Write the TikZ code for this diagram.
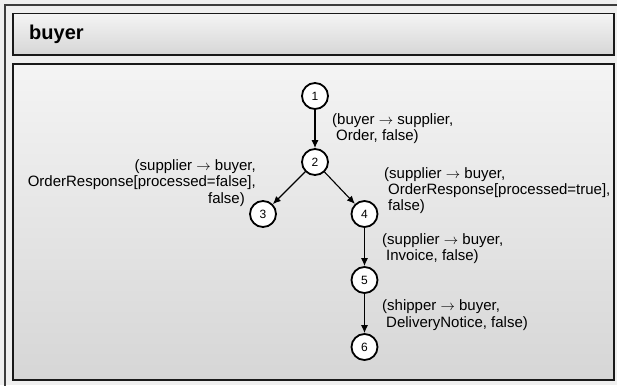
\documentclass[tikz,border=0pt]{standalone}
\usepackage{fontspec}
\setmainfont{Liberation Sans}
\usetikzlibrary{arrows.meta}

\definecolor{framebg}{RGB}{239,239,239}
\definecolor{frameline}{RGB}{60,60,60}
\definecolor{boxtop}{RGB}{244,244,244}
\definecolor{boxbottom}{RGB}{214,214,214}

\tikzset{
    lane/.style={draw=black!90, line width=1.8pt, top color=boxtop, bottom color=boxbottom},
    state/.style={circle, draw, fill=white, line width=1.8pt, minimum size=26pt, inner sep=0pt,
        font=\fontsize{12}{14}\selectfont},
    msg/.style={inner sep=0pt, font=\fontsize{15}{16.3}\selectfont},
}

\begin{document}
\begin{tikzpicture}[x=1pt, y=-1pt]

    \useasboundingbox (0,0) rectangle (617,385);
    \fill[framebg] (0,0) rectangle (617,385);
    \draw[frameline, line width=2pt] (4.5,386) |- (618,5);

    % participant header and its body
    \draw[lane] (13,13.5) rectangle (614,55);
    \draw[lane] (13,64) rectangle (614,380);
    \node[anchor=base west, inner sep=0pt, font=\fontsize{20}{24}\selectfont\bfseries] (title) at (29,40) {buyer};

    \node[state] (s1) at (315,96)  {1};
    \node[state] (s2) at (315,162) {2};
    \node[state] (s3) at (263,214) {3};
    \node[state] (s4) at (364.5,214) {4};
    \node[state] (s5) at (364.5,280) {5};
    \node[state] (s6) at (364.5,347) {6};

    \node[msg, anchor=west, align=left] (order) at (332,128.6)
        {(buyer $\rightarrow$ supplier,\\\hspace*{4pt}Order, false)};
    \node[msg, anchor=east, align=right] (rejected) at (256,183)
        {(supplier $\rightarrow$ buyer,\\OrderResponse[processed=false],\hspace*{8pt}\\false)\hspace*{11pt}};
    \node[msg, anchor=west, align=left] (accepted) at (384,190.6)
        {(supplier $\rightarrow$ buyer,\\\hspace*{4pt}OrderResponse[processed=true],\\\hspace*{4pt}false)};
    \node[msg, anchor=west, align=left] (invoice) at (382,248.5)
        {(supplier $\rightarrow$ buyer,\\\hspace*{4pt}Invoice, false)};
    \node[msg, anchor=west, align=left] (delivery) at (382,315.1)
        {(shipper $\rightarrow$ buyer,\\\hspace*{4pt}DeliveryNotice, false)};

    \begin{scope}[>={Latex[length=8pt, width=7pt]}, line width=1.1pt]
        \draw [->] (s1) -- (s2);
        \draw [->] (s2) -- (s3);
        \draw [->] (s2) -- (s4);
        \draw [->] (s4) -- (s5);
        \draw [->] (s5) -- (s6);
    \end{scope}

\end{tikzpicture}
\end{document}
